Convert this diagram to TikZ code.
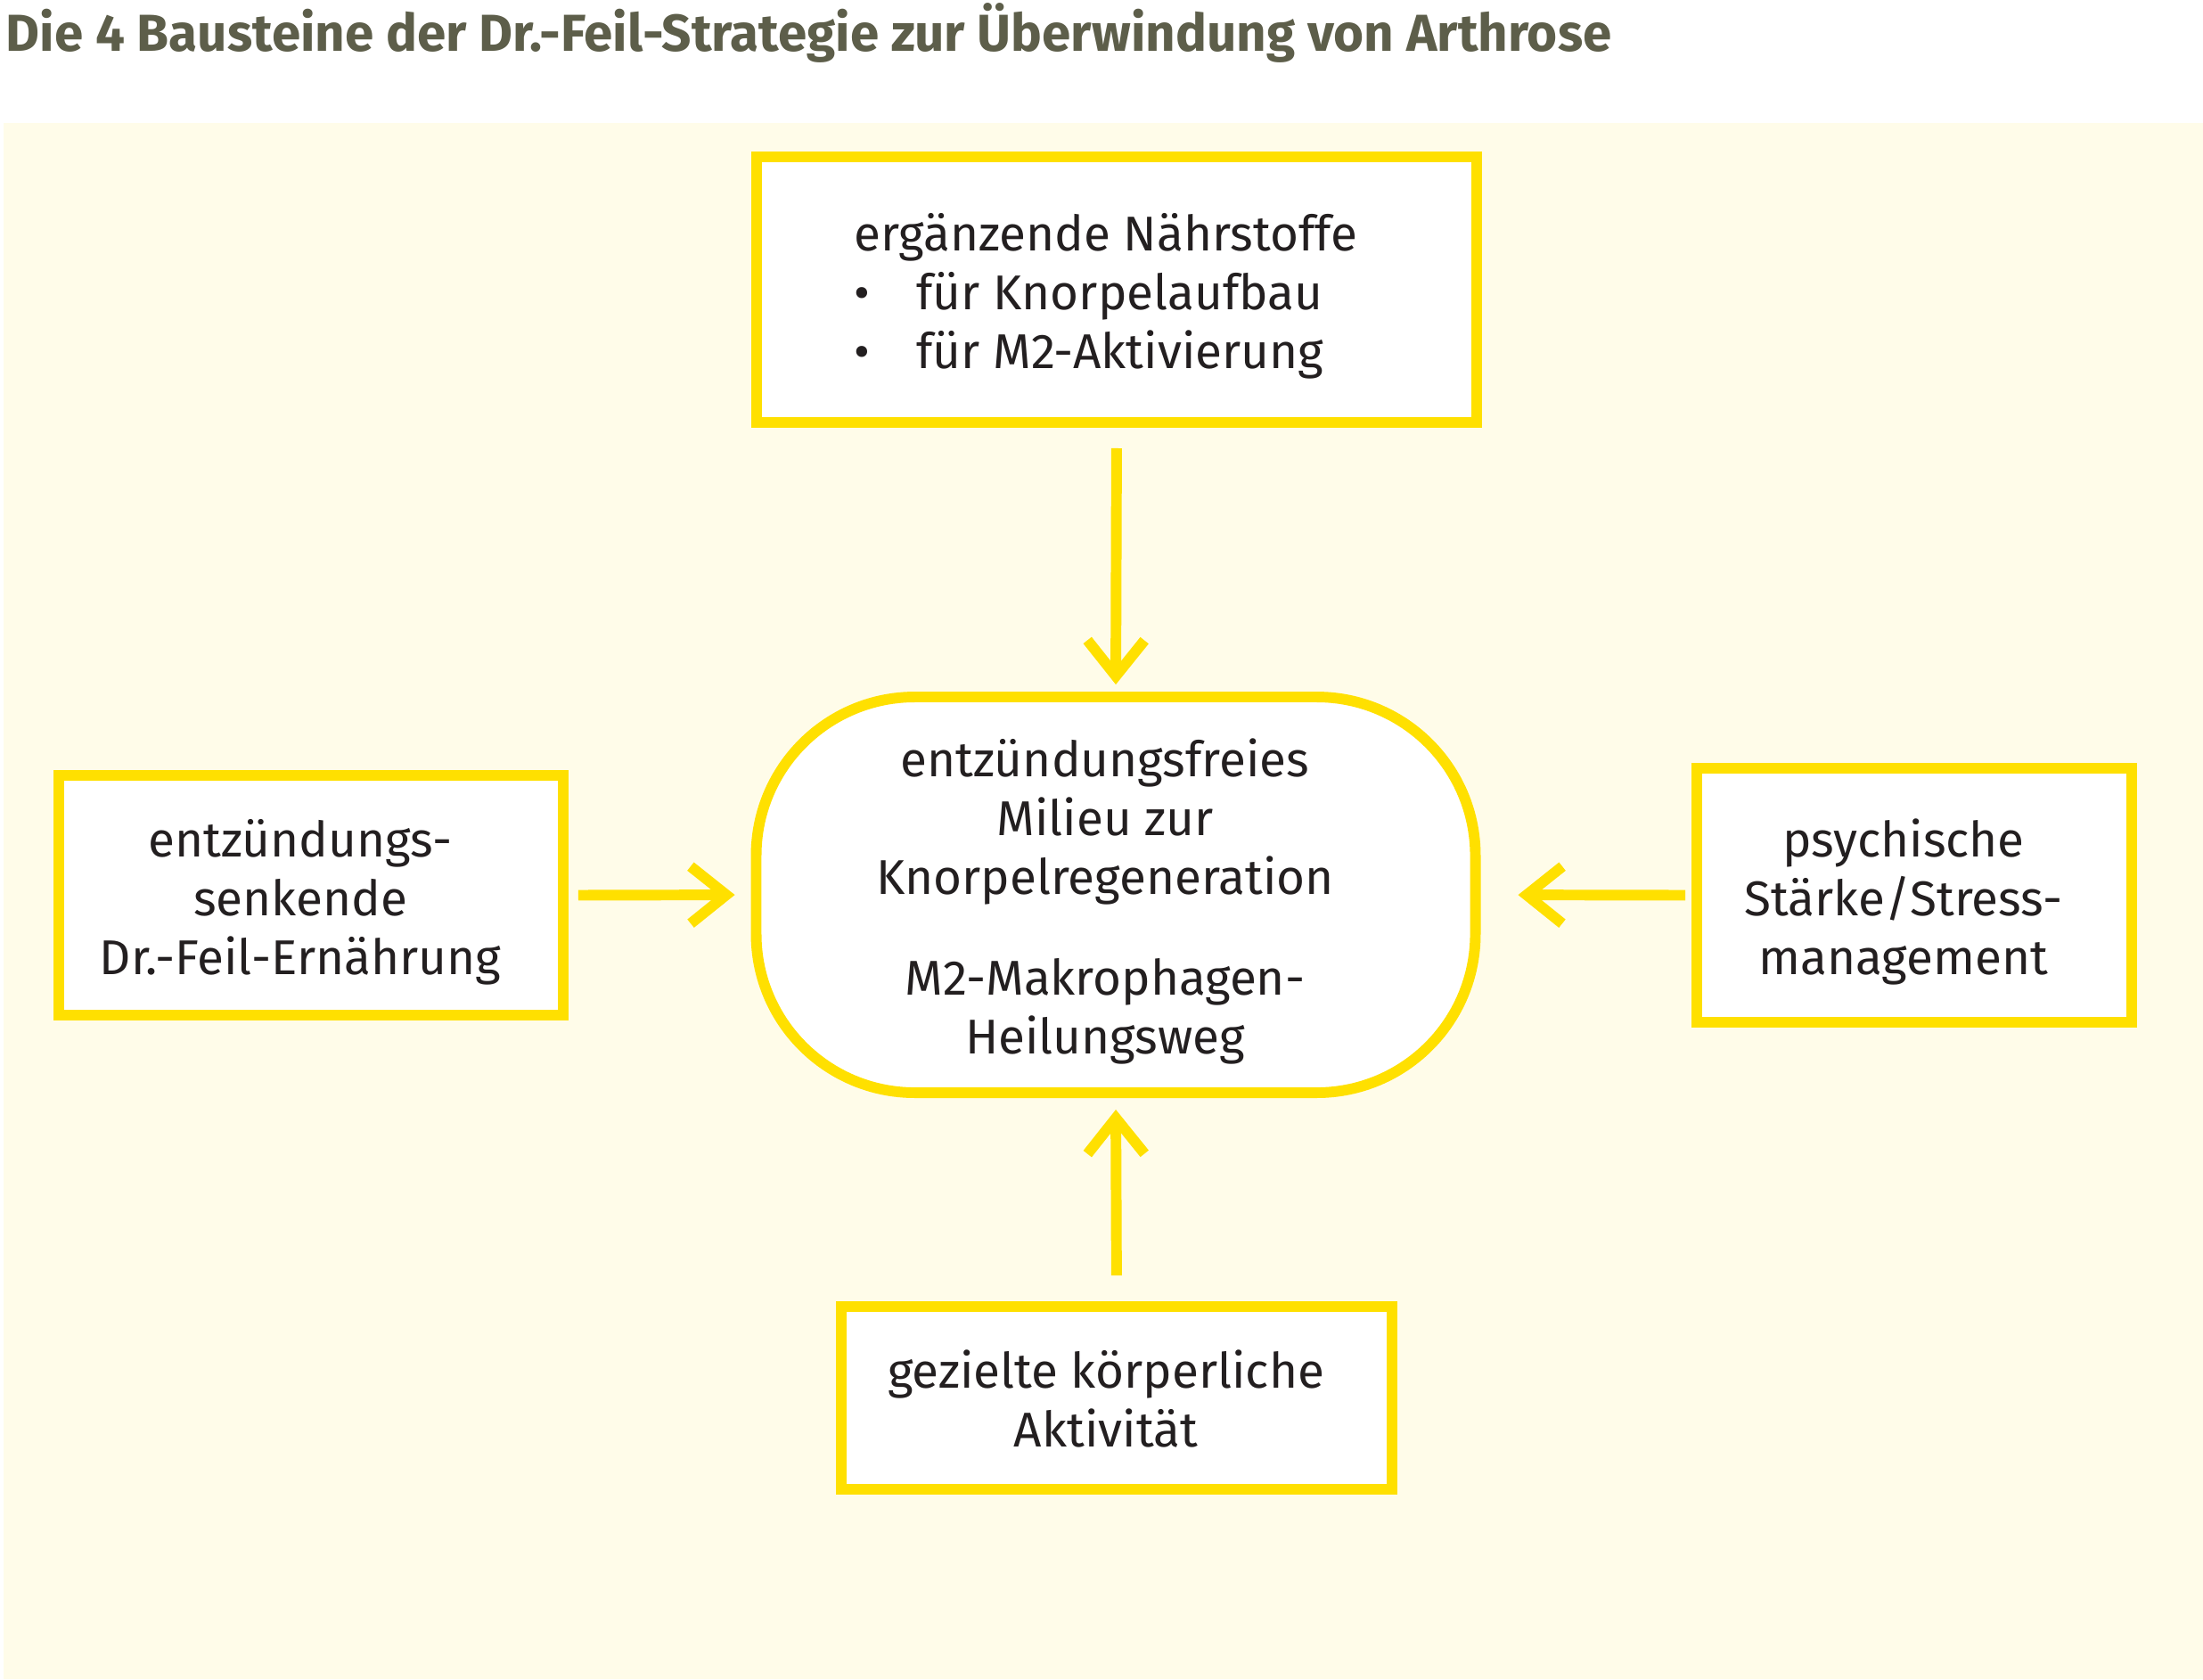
\documentclass[tikz,border=0pt]{standalone}
\usepackage{fontspec}
\setmainfont{Fira Sans}
\usetikzlibrary{arrows.meta}
\definecolor{gelb}{RGB}{255,224,0}
\definecolor{creme}{RGB}{255,252,233}
\definecolor{titelgrau}{RGB}{93,94,74}
\definecolor{schrift}{RGB}{35,31,32}
% Zeilenblock, etwas nach links und unten versetzt
\newcommand{\btext}[3][c]{\hspace*{-0.24cm}\raisebox{-#2}[\height][\depth]{%
  \begin{tabular}{@{}#1@{}}#3\end{tabular}}}
\tikzset{>={Straight Barb[length=4mm,width=6.4mm]}}
\tikzset{
  baustein/.style={draw=gelb, line width=3.4pt, fill=white, inner sep=0pt,
    text=schrift, font=\fontsize{15.6pt}{18.8pt}\selectfont},
  pfeil/.style={draw=gelb, line width=3.4pt, ->}
}

\begin{document}
\begin{tikzpicture}
  \useasboundingbox (0,0) rectangle (24.72,-18.84);
  \fill[creme] (0.04,-1.38) rectangle (24.72,-18.84);
  \node[anchor=base west, inner sep=0pt, text=titelgrau, font=\fontsize{16.6pt}{18pt}\selectfont\bfseries]
    (titel) at (0.06,-0.57) {Die 4 Bausteine der Dr.-Feil-Strategie zur Überwindung von Arthrose};

  \node[baustein, minimum width=8.08cm, minimum height=2.98cm] (naehrstoffe)
    at (12.53,-3.25) {\btext[l]{0.095cm}{ergänzende Nährstoffe\\
    \makebox[0.7cm][l]{\textbullet}für Knorpelaufbau\\
    \makebox[0.7cm][l]{\textbullet}für M2-Aktivierung}};
  \node[baustein, minimum width=8.07cm, minimum height=4.44cm, rounded corners=1.78cm] (milieu)
    at (12.52,-10.04) {\btext{0.1cm}{entzündungsfreies\\Milieu zur\\Knorpelregeneration\\[0.47cm]M2-Makrophagen-\\Heilungsweg}};
  \node[baustein, minimum width=5.66cm, minimum height=2.69cm] (ernaehrung)
    at (3.49,-10.045) {\btext{0.095cm}{entzündungs-\\senkende\\Dr.-Feil-Ernährung}};
  \node[baustein, minimum width=4.88cm, minimum height=2.85cm] (psyche)
    at (21.48,-10.045) {\btext{0.095cm}{psychische\\Stärke/Stress-\\management}};
  \node[baustein, minimum width=6.18cm, minimum height=2.05cm] (aktivitaet)
    at (12.53,-15.685) {\btext{0.085cm}{gezielte körperliche\\Aktivität}};

  \draw[pfeil, shorten <=0.23cm, shorten >=0.08cm] (naehrstoffe.south) -- (milieu.north);
  \draw[pfeil, shorten <=0.29cm, shorten >=0.13cm] (aktivitaet.north) -- (milieu.south);
  \draw[pfeil, shorten <=0.11cm, shorten >=0.18cm] (ernaehrung.east) -- (milieu.west);
  \draw[pfeil, shorten <=0.07cm, shorten >=0.42cm] (psyche.west) -- (milieu.east);
\end{tikzpicture}
\end{document}
